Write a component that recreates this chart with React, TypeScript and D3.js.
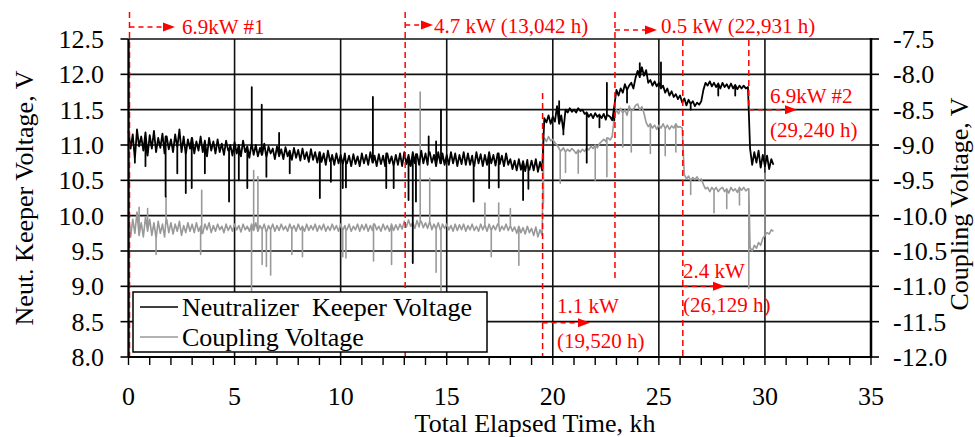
import React from 'react';
import * as d3 from 'd3';

// ---------- DATA ----------
// sampling grid: every 0.1 kh from 0 to 30.4 kh (305 samples)
const SAMPLE_COUNT = 305;
const SAMPLE_STEP_KH = 0.1;

// Neutralizer keeper voltage, V (left axis), one row per kh
const KEEPER_V = [
  11.2, 10.95, 11.15, 10.8, 11.22, 10.98, 11.12, 10.92, 11.18, 10.85,
  11.14, 10.95, 11.2, 10.9, 11.1, 10.96, 11.16, 10.88, 11.12, 10.94,
  11.08, 10.9, 11.15, 10.96, 11.22, 10.9, 11.12, 10.86, 11.08, 10.95,
  11.1, 10.88, 11.05, 10.92, 11.12, 10.9, 11.06, 10.84, 11.1, 10.92,
  11.05, 10.88, 11.08, 10.9, 11.02, 10.86, 11.06, 10.92, 11.0, 10.85,
  11.04, 10.88, 11.0, 10.84, 11.06, 10.9, 10.98, 10.82, 11.02, 10.86,
  11.0, 10.84, 10.96, 10.86, 11.02, 10.82, 10.98, 10.88, 10.95, 10.8,
  10.98, 10.84, 10.94, 10.8, 10.97, 10.84, 10.92, 10.79, 10.96, 10.82,
  10.93, 10.78, 10.95, 10.8, 10.9, 10.76, 10.94, 10.79, 10.9, 10.75,
  10.9, 10.76, 10.88, 10.72, 10.92, 10.77, 10.86, 10.72, 10.88, 10.74,
  10.86, 10.72, 10.88, 10.74, 10.85, 10.7, 10.87, 10.73, 10.84, 10.7,
  10.88, 10.74, 10.86, 10.72, 10.9, 10.75, 10.85, 10.7, 10.87, 10.73,
  10.85, 10.7, 10.88, 10.74, 10.84, 10.7, 10.86, 10.72, 10.88, 10.7,
  10.9, 10.73, 10.86, 10.7, 10.9, 10.74, 10.87, 10.72, 10.92, 10.74,
  10.88, 10.72, 10.9, 10.75, 10.86, 10.7, 10.9, 10.74, 10.88, 10.72,
  10.86, 10.72, 10.9, 10.74, 10.88, 10.7, 10.86, 10.73, 10.9, 10.72,
  10.88, 10.72, 10.85, 10.7, 10.9, 10.74, 10.87, 10.7, 10.86, 10.72,
  10.9, 10.74, 10.86, 10.71, 10.88, 10.73, 10.85, 10.7, 10.88, 10.72,
  10.8, 10.66, 10.78, 10.64, 10.8, 10.65, 10.77, 10.63, 10.79, 10.65,
  10.78, 10.64, 10.8, 10.62, 10.76, 10.64, 11.38, 11.32, 11.42, 11.3,
  11.4, 11.33, 11.55, 11.3, 11.42, 11.2, 11.5, 11.46, 11.52, 11.47,
  11.5, 11.46, 11.52, 11.48, 11.5, 11.44, 11.46, 11.4, 11.44, 11.38,
  11.45, 11.4, 11.43, 11.38, 11.44, 11.36, 11.42, 11.4, 11.35, 11.55,
  11.78, 11.7, 11.8, 11.74, 11.86, 11.78, 11.84, 11.88, 11.8, 11.95,
  12.05, 11.96, 12.1, 11.98, 12.06, 11.88, 11.92, 11.84, 11.9, 11.83,
  11.88, 11.8, 11.84, 11.74, 11.8, 11.7, 11.76, 11.68, 11.72, 11.65,
  11.7, 11.6, 11.66, 11.56, 11.64, 11.58, 11.62, 11.55, 11.6, 11.57,
  11.62, 11.78, 11.88, 11.84, 11.9, 11.83, 11.88, 11.82, 11.87, 11.8,
  11.88, 11.82, 11.86, 11.8, 11.87, 11.8, 11.85, 11.79, 11.84, 11.8,
  11.84, 11.8, 11.82, 10.95, 10.72, 10.9, 10.75, 10.92, 10.68, 10.86,
  10.7, 10.85, 10.66, 10.8, 10.72,
];

// Coupling voltage, V (right axis), one row per kh
const COUPLING_V = [
  -10.0, -10.3, -10.05, -10.25, -9.95, -10.28, -10.1, -10.3, -10.02, -10.22,
  -10.05, -10.28, -10.1, -10.32, -10.08, -10.25, -10.12, -10.3, -10.05, -10.24,
  -10.1, -10.26, -10.12, -10.22, -10.08, -10.28, -10.14, -10.24, -10.1, -10.22,
  -10.12, -10.24, -10.1, -10.22, -10.15, -10.25, -10.12, -10.2, -10.1, -10.24,
  -10.14, -10.22, -10.12, -10.2, -10.15, -10.24, -10.12, -10.21, -10.14, -10.22,
  -10.12, -10.2, -10.14, -10.23, -10.12, -10.2, -10.15, -10.22, -10.12, -10.21,
  -10.1, -10.22, -10.14, -10.2, -10.12, -10.24, -10.14, -10.2, -10.12, -10.22,
  -10.14, -10.21, -10.12, -10.2, -10.15, -10.22, -10.12, -10.2, -10.14, -10.22,
  -10.12, -10.2, -10.15, -10.22, -10.12, -10.21, -10.14, -10.2, -10.12, -10.22,
  -10.14, -10.2, -10.12, -10.22, -10.15, -10.21, -10.12, -10.2, -10.14, -10.22,
  -10.12, -10.21, -10.14, -10.2, -10.12, -10.22, -10.15, -10.2, -10.12, -10.22,
  -10.13, -10.2, -10.12, -10.22, -10.14, -10.21, -10.12, -10.2, -10.15, -10.22,
  -10.12, -10.2, -10.14, -10.22, -10.12, -10.21, -10.13, -10.2, -10.12, -10.19,
  -10.08, -10.16, -10.06, -10.15, -10.1, -10.18, -10.07, -10.16, -10.08, -10.17,
  -10.1, -10.18, -10.08, -10.2, -10.12, -10.19, -10.1, -10.2, -10.12, -10.18,
  -10.12, -10.2, -10.14, -10.22, -10.12, -10.21, -10.13, -10.2, -10.12, -10.22,
  -10.14, -10.2, -10.12, -10.21, -10.15, -10.22, -10.12, -10.2, -10.13, -10.22,
  -10.12, -10.21, -10.14, -10.2, -10.12, -10.22, -10.15, -10.2, -10.12, -10.21,
  -10.14, -10.22, -10.16, -10.25, -10.15, -10.24, -10.17, -10.26, -10.15, -10.24,
  -10.18, -10.28, -10.16, -10.3, -10.2, -10.28, -8.9, -8.95, -8.88, -8.94,
  -8.92, -8.97, -9.0, -9.05, -9.08, -9.04, -9.1, -9.06, -9.09, -9.05,
  -9.08, -9.12, -9.07, -9.1, -9.06, -9.09, -9.04, -9.07, -9.02, -9.05,
  -9.0, -9.04, -8.98, -8.95, -8.92, -8.95, -8.9, -8.93, -8.88, -8.6,
  -8.5, -8.56, -8.48, -8.55, -8.5, -8.58, -8.45, -8.52, -8.5, -8.44,
  -8.42, -8.5, -8.46, -8.55, -8.68, -8.74, -8.7, -8.76, -8.72, -8.78,
  -8.72, -8.76, -8.7, -8.77, -8.72, -8.78, -8.73, -8.76, -8.7, -8.75,
  -8.74, -8.76, -9.42, -9.48, -9.44, -9.5, -9.46, -9.49, -9.45, -9.5,
  -9.48, -9.56, -9.62, -9.6, -9.66, -9.6, -9.64, -9.6, -9.66, -9.62,
  -9.6, -9.66, -9.62, -9.68, -9.6, -9.65, -9.62, -9.67, -9.6, -9.64,
  -9.6, -9.65, -9.62, -10.45, -10.5, -10.42, -10.46, -10.38, -10.42, -10.32,
  -10.28, -10.24, -10.26, -10.2, -10.22,
];

// isolated spikes: [time kh, tip value]
const KEEPER_SPIKES: [number, number][] = [
  [0.3, 10.75], [0.8, 10.7], [1.75, 10.27], [2.3, 10.6], [2.7, 10.32], [2.98, 10.39],
  [3.6, 10.6], [4.74, 10.2], [5.2, 10.5], [5.6, 10.39], [5.81, 11.82], [6.28, 11.57],
  [6.5, 10.55], [7.1, 11.17], [7.6, 10.6], [9.02, 10.25], [9.54, 10.48], [10.1, 10.39],
  [10.25, 10.4], [11.52, 11.68], [12.15, 10.39], [12.5, 10.39], [13.2, 10.22], [13.4, 9.33],
  [13.55, 10.2], [14.15, 11.12], [14.5, 11.05], [14.73, 11.5], [16.27, 10.2], [17.0, 10.39],
  [17.45, 10.4], [18.6, 10.22], [18.85, 10.38], [20.3, 11.62], [20.5, 11.15], [21.6, 10.75],
  [22.2, 11.25], [22.55, 11.88], [22.9, 11.35], [23.5, 11.6], [24.1, 12.16], [25.1, 12.17],
  [26.5, 11.5], [27.8, 11.7], [28.6, 11.7],
];

const COUPLING_SPIKES: [number, number][] = [
  [0.5, -9.88], [0.9, -9.9], [1.3, -10.55], [1.77, -9.73], [3.4, -10.55], [3.45, -9.64],
  [5.8, -11.06], [5.9, -9.36], [6.1, -9.45], [6.3, -10.69], [6.5, -10.72], [6.7, -10.84],
  [7.7, -10.55], [8.2, -10.58], [10.1, -10.58], [10.25, -10.6], [11.55, -10.64], [12.4, -10.69],
  [13.75, -8.25], [14.2, -9.47], [14.5, -10.8], [14.73, -11.06], [16.8, -9.82], [17.1, -10.58],
  [17.45, -9.82], [18.0, -9.9], [18.4, -10.7], [19.56, -9.82], [20.35, -9.54], [20.6, -9.39],
  [21.2, -9.4], [22.0, -9.5], [22.55, -9.45], [23.3, -9.03], [23.7, -9.1], [24.6, -9.12],
  [25.3, -9.15], [25.8, -9.1], [26.5, -9.7], [27.6, -9.96], [28.2, -9.9], [28.8, -9.85],
  [29.24, -11.03], [30.0, -9.4],
];

// power-level change events
const EVENT_TIMES_KH = [0, 13.042, 19.52, 22.931, 26.129, 29.24];
const EVENT_LABELS = ['6.9kW #1', '4.7 kW (13,042 h)', '1.1 kW', '0.5 kW (22,931 h)', '2.4 kW', '6.9kW #2'];
const EVENT_SUBLABELS = ['', '', '(19,520 h)', '', '(26,129 h)', '(29,240 h)'];

const X_TICKS = [0, 5, 10, 15, 20, 25, 30, 35];
const LEFT_TICKS = [8, 8.5, 9, 9.5, 10, 10.5, 11, 11.5, 12, 12.5];
const RIGHT_TICKS = [-12, -11.5, -11, -10.5, -10, -9.5, -9, -8.5, -8, -7.5];

// ---------- LAYOUT ----------
const W = 975;
const H = 437;
const FONT = "'Liberation Serif', 'Times New Roman', serif";
const RED = '#ff0000';

const x = d3.scaleLinear().domain([0, 35]).range([128.5, 871]);
const yL = d3.scaleLinear().domain([8, 12.5]).range([357, 39]);
const yR = d3.scaleLinear().domain([-12, -7.5]).range([357, 39]);

function buildSeries(values: number[], spikes: [number, number][]) {
  const pts: { t: number; v: number; o: number }[] = [];
  for (let i = 0; i < SAMPLE_COUNT; i++) pts.push({ t: +(i * SAMPLE_STEP_KH).toFixed(2), v: values[i], o: 0 });
  spikes.forEach(([t, tip]) => {
    const base = values[Math.min(SAMPLE_COUNT - 1, Math.round(t / SAMPLE_STEP_KH))];
    pts.push({ t, v: base, o: 1 }, { t, v: tip, o: 2 }, { t, v: base, o: 3 });
  });
  pts.sort((a, b) => a.t - b.t || a.o - b.o);
  return pts;
}

function Arrow({ x0, y, x1 }: { x0: number; y: number; x1: number }) {
  return (
    <g>
      <line x1={x0} x2={x1 - 10} y1={y} y2={y} stroke={RED} strokeWidth={1.5} strokeDasharray="5,4" />
      <path d={`M${x1 - 12},${y - 4.5} L${x1},${y} L${x1 - 12},${y + 4.5} Z`} fill={RED} />
    </g>
  );
}

export default function App() {
  const keeper = buildSeries(KEEPER_V, KEEPER_SPIKES);
  const coupling = buildSeries(COUPLING_V, COUPLING_SPIKES);
  const lineL = d3.line<{ t: number; v: number }>().x((d) => x(d.t)).y((d) => yL(d.v));
  const lineR = d3.line<{ t: number; v: number }>().x((d) => x(d.t)).y((d) => yR(d.v));

  const minor = d3.range(0, 36, 1);
  const ex = EVENT_TIMES_KH.map((t) => x(t));

  const evTop = [12, 12, 93, 12, 40, 40];
  const evBot = [357, 357, 357, 280, 357, 110];

  return (
    <svg width={W} height={H} style={{ position: 'absolute', left: 0, top: 0, background: '#fff' }} fontFamily={FONT}>
      <rect x={0} y={0} width={W} height={H} fill="#fff" />
      {LEFT_TICKS.map((v) => (
        <line key={'h' + v} x1={x(0)} x2={x(35)} y1={yL(v)} y2={yL(v)} stroke="#111" strokeWidth={1.6} />
      ))}
      {X_TICKS.map((t) => (
        <line key={'v' + t} x1={x(t)} x2={x(t)} y1={yL(12.5)} y2={yL(8)} stroke="#111" strokeWidth={1.6} />
      ))}

      <path d={lineR(coupling) || ''} fill="none" stroke="#999" strokeWidth={1.6} strokeLinejoin="round" />
      <path d={lineL(keeper) || ''} fill="none" stroke="#000" strokeWidth={1.8} strokeLinejoin="round" />

      {ex.map((xx, i) => (
        <line key={'e' + i} x1={xx + (i === 0 ? 1 : 0)} x2={xx + (i === 0 ? 1 : 0)} y1={evTop[i]} y2={evBot[i]} stroke={RED} strokeWidth={1.5} strokeDasharray="6,4" />
      ))}

      <Arrow x0={ex[0] + 1} y={27} x1={175} />
      <text x={182} y={34} fontSize={21} fill={RED}>{EVENT_LABELS[0]}</text>
      <Arrow x0={ex[1]} y={25} x1={433} />
      <text x={434} y={33} fontSize={21} fill={RED}>{EVENT_LABELS[1]}</text>
      <Arrow x0={ex[3]} y={30} x1={657} />
      <text x={661} y={33} fontSize={21} fill={RED}>{EVENT_LABELS[3]}</text>
      <Arrow x0={ex[5]} y={yR(-8.5)} x1={797} />
      <text x={770} y={103} fontSize={21} fill={RED}>{EVENT_LABELS[5]}</text>
      <text x={770} y={137} fontSize={21} fill={RED}>{EVENT_SUBLABELS[5]}</text>
      <Arrow x0={ex[4]} y={yR(-11)} x1={725} />
      <text x={683} y={278} fontSize={21} fill={RED}>{EVENT_LABELS[4]}</text>
      <text x={683} y={312} fontSize={21} fill={RED}>{EVENT_SUBLABELS[4]}</text>
      <Arrow x0={ex[2]} y={yR(-11.5) + 1} x1={590} />
      <text x={557} y={313} fontSize={21} fill={RED}>{EVENT_LABELS[2]}</text>
      <text x={557} y={348} fontSize={21} fill={RED}>{EVENT_SUBLABELS[2]}</text>

      <rect x={133} y={292} width={354} height={60} fill="#fff" stroke="#000" strokeWidth={1.5} />
      <line x1={140} x2={178} y1={307} y2={307} stroke="#000" strokeWidth={1.6} />
      <line x1={140} x2={178} y1={337} y2={337} stroke="#999" strokeWidth={1.6} />
      <text x={182} y={316} fontSize={26} style={{ whiteSpace: 'pre' }}>{'Neutralizer  Keeper Voltage'}</text>
      <text x={182} y={346} fontSize={26}>Coupling Voltage</text>

      <line x1={x(0)} x2={x(0)} y1={yL(12.5)} y2={yL(8)} stroke="#000" strokeWidth={2} />
      <line x1={x(35)} x2={x(35)} y1={yL(12.5) - 1} y2={yL(8) + 1} stroke="#000" strokeWidth={2.5} />
      <line x1={x(0)} x2={x(35)} y1={yL(8)} y2={yL(8)} stroke="#000" strokeWidth={2} />
      {LEFT_TICKS.map((v) => (
        <g key={'lt' + v}>
          <line x1={x(0) - 8} x2={x(0)} y1={yL(v)} y2={yL(v)} stroke="#000" strokeWidth={1.6} />
          <text x={104} y={yL(v)} dy="0.34em" textAnchor="end" fontSize={26}>{v.toFixed(1)}</text>
        </g>
      ))}
      {RIGHT_TICKS.map((v) => (
        <g key={'rt' + v}>
          <line x1={x(35)} x2={x(35) + 8} y1={yR(v)} y2={yR(v)} stroke="#000" strokeWidth={1.6} />
          <text x={893} y={yR(v)} dy="0.34em" textAnchor="start" fontSize={26}>{v.toFixed(1)}</text>
        </g>
      ))}
      {minor.map((t) => (
        <line key={'mt' + t} x1={x(t)} x2={x(t)} y1={yL(8)} y2={yL(8) + 8} stroke="#000" strokeWidth={1.4} />
      ))}
      {X_TICKS.map((t) => (
        <text key={'xt' + t} x={x(t)} y={405} textAnchor="middle" fontSize={26}>{t}</text>
      ))}
      <text x={535} y={432} textAnchor="middle" fontSize={26}>Total Elapsed Time, kh</text>
      <text transform="translate(33,198) rotate(-90)" textAnchor="middle" fontSize={26}>Neut. Keeper Voltage, V</text>
      <text transform="translate(968,204) rotate(-90)" textAnchor="middle" fontSize={26}>Coupling Voltage, V</text>
    </svg>
  );
}
